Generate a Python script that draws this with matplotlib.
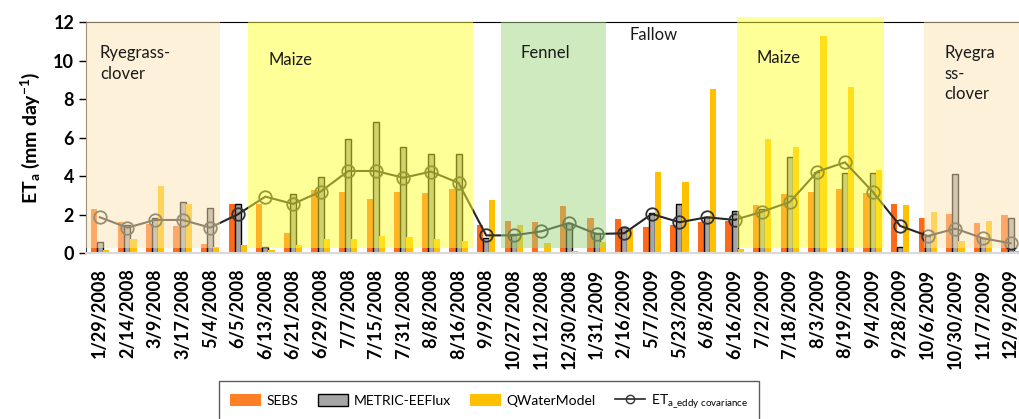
import matplotlib
matplotlib.use("Agg")
import matplotlib.pyplot as plt
from matplotlib.patches import Rectangle, Patch
from matplotlib.lines import Line2D
import numpy as np

plt.rcParams['font.family'] = ['Lato', 'DejaVu Sans']
plt.rcParams['mathtext.default'] = 'regular'

dates = ['1/29/2008', '2/14/2008', '3/9/2008', '3/17/2008', '5/4/2008', '6/5/2008',
         '6/13/2008', '6/21/2008', '6/29/2008', '7/7/2008', '7/15/2008', '7/31/2008',
         '8/8/2008', '8/16/2008', '9/9/2008', '10/27/2008', '11/12/2008', '12/30/2008',
         '1/31/2009', '2/16/2009', '5/7/2009', '5/23/2009', '6/8/2009', '6/16/2009',
         '7/2/2009', '7/18/2009', '8/3/2009', '8/19/2009', '9/4/2009', '9/28/2009',
         '10/6/2009', '10/30/2009', '11/7/2009', '12/9/2009']

sebs = [2.28, 1.64, 1.50, 1.42, 0.48, 2.54, 2.54, 1.04, 3.28, 3.20, 2.83, 3.20,
        3.11, 3.34, 1.47, 1.69, 1.62, 2.47, 1.83, 1.76, 1.35, 1.47, 1.62, 1.69,
        2.51, 3.08, 3.20, 3.34, 3.13, 2.57, 1.85, 2.05, 1.56, 1.99]
metric = [0.60, 1.45, 1.85, 2.68, 2.33, 2.54, 0.31, 3.08, 3.94, 5.95, 6.81, 5.52,
          5.17, 5.17, 0.80, 1.00, 0.08, 1.57, 1.05, 1.38, 2.07, 2.57, 1.90, 2.20,
          2.30, 4.98, 4.20, 4.18, 4.18, 0.31, 0.90, 4.11, 0.80, 1.83]
qwater = [0.19, 0.76, 3.49, 2.56, 0.35, 0.41, 0.15, 0.41, 0.76, 0.76, 0.91, 0.83,
          0.76, 0.64, 2.77, 1.48, 0.55, 0.10, 0.60, 1.25, 4.20, 3.70, 8.51, 0.24,
          5.92, 5.50, 11.28, 8.65, 4.34, 2.49, 2.13, 0.62, 1.69, 0.10]
eddy = [1.87, 1.33, 1.73, 1.73, 1.33, 2.02, 2.94, 2.56, 3.20, 4.27, 4.27, 3.92,
        4.24, 3.65, 0.93, 0.93, 1.14, 1.57, 1.00, 1.04, 2.04, 1.61, 1.87, 1.73,
        2.16, 2.66, 4.24, 4.72, 3.20, 1.42, 0.90, 1.28, 0.78, 0.52]

# crop periods: label, start, end, top, colour, label anchor
crop_labels = ['Ryegrass-\nclover', 'Maize', 'Fennel', 'Maize', 'Ryegra\nss-\nclover']
crop_start = [-0.5, 5.36, 14.53, 23.07, 29.87]
crop_end = [4.35, 13.52, 18.33, 28.40, 33.6]
crop_top = [12.0, 12.0, 12.0, 12.25, 12.0]
crop_colors = ['#FCE7B5', '#FFFF33', '#A3D780', '#FFFF33', '#FCE7B5']
crop_text_xy = [(0.0, 10.8), (6.1, 10.45), (15.25, 10.8), (23.8, 10.55), (30.6, 10.8)]

c_sebs = '#FF6A1A'
c_metric = '#A6A6A6'
c_qwater = '#FFC000'

fig = plt.figure(figsize=(10.19, 4.19), dpi=100)
ax = fig.add_axes([86 / 1019, 1 - 253.3 / 419, 938.4 / 1019, 231.3 / 419])

x = np.arange(len(dates))
w = 0.22
ax.bar(x - w, sebs, w, color=c_sebs, zorder=2)
ax.bar(x, metric, w, color=c_metric, edgecolor='black', linewidth=1.0, zorder=2)
ax.bar(x + w, qwater, w, color=c_qwater, zorder=2)
ax.plot(x, eddy, color='#262626', lw=1.5, marker='o', ms=9, mfc='none',
        mec='#333333', mew=1.3, zorder=3)

for lab, s, e, top, col, (tx, ty) in zip(crop_labels, crop_start, crop_end,
                                         crop_top, crop_colors, crop_text_xy):
    ax.add_patch(Rectangle((s, 0.3), e - s, top - 0.3, facecolor=col,
                           edgecolor='none', alpha=0.5, zorder=4, clip_on=False))
    ax.text(tx, ty, lab, fontsize=12, color='#1a1a1a', ha='left', va='top',
            linespacing=1.35, zorder=5)
ax.text(19.2, 11.75, 'Fallow', fontsize=12, color='#1a1a1a', ha='left', va='top', zorder=5)

ax.set_xlim(-0.5, len(dates) - 0.5)
ax.set_ylim(0, 12)
ax.set_yticks(range(0, 13, 2))
ax.set_xticks(x)
ax.set_xticklabels(dates, rotation=90, fontsize=13, fontweight='bold')
ax.tick_params(axis='x', length=0, pad=11)
ax.tick_params(axis='y', direction='out', length=5, labelsize=13, width=1)
for t in ax.get_yticklabels():
    t.set_fontweight('bold')
ax.set_ylabel('ET$_a$ (mm day$^{-1}$)', fontsize=14, fontweight='bold', labelpad=8)

ax.spines['right'].set_visible(False)
ax.spines['top'].set_color('black')
ax.spines['left'].set_color('#404040')
ax.spines['bottom'].set_color('#D9D9D9')
ax.spines['bottom'].set_linewidth(1.5)

handles = [Patch(facecolor='#FF7F27', edgecolor='none'),
           Patch(facecolor=c_metric, edgecolor='black'),
           Patch(facecolor=c_qwater, edgecolor='none'),
           Line2D([], [], color='#262626', lw=1.2, marker='o', ms=6, mfc='none',
                  mec='#333333')]
labels = ['SEBS', 'METRIC-EEFlux', 'QWaterModel', r'ET$_{a\_eddy\ covariance}$']
leg = fig.legend(handles, labels, loc='upper left',
                 bbox_to_anchor=(219 / 1019, 1 - 381 / 419), borderaxespad=0,
                 ncol=4, frameon=True, fancybox=False, edgecolor='#333333',
                 fontsize=10, handlelength=2.2, handleheight=0.9, columnspacing=1.4,
                 borderpad=0.8, handletextpad=0.4)
leg.get_frame().set_linewidth(1.0)

fig.savefig('out.png', dpi=100)
